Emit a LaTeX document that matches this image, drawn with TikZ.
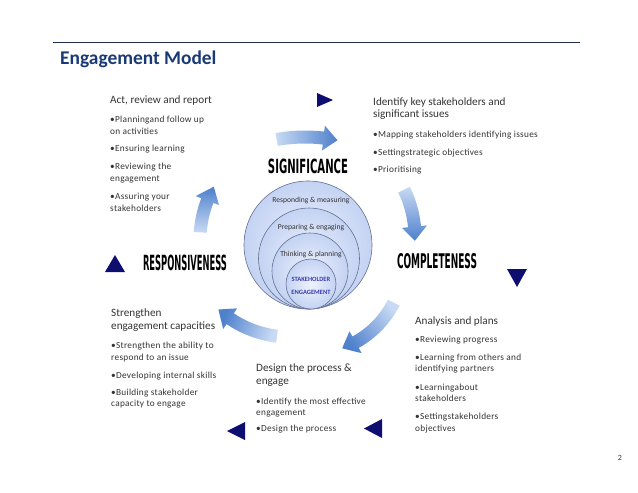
\documentclass[tikz,border=0pt]{standalone}
\usepackage{fontspec}
\setmainfont{Carlito}
\newfontfamily\bulfont[LetterSpace=3]{Carlito}
\newfontfamily\bigfont{DejaVu Sans}
\usepackage{graphicx}
\usetikzlibrary{calc}
\definecolor{navy}{RGB}{14,14,112}
\definecolor{titleblue}{RGB}{26,58,118}
\definecolor{rulecol}{RGB}{30,44,78}
\definecolor{txt}{RGB}{52,52,52}
\definecolor{arrlight}{RGB}{200,218,244}
\definecolor{arrdark}{RGB}{78,128,204}
\definecolor{circout}{RGB}{196,211,243}
\definecolor{circin}{RGB}{238,242,252}
\definecolor{circline}{RGB}{100,112,148}
\definecolor{stakeblue}{RGB}{58,58,172}
% #1 cx, #2 cy, #3 R, #4 tail angle, #5 head base angle, #6 tip angle, #7 shading options
\newcommand\cyclearrow[7]{%
  \shade[#7] ($(#1,#2)+(#4:{#3+6.5})$) arc[start angle=#4, end angle=#5, radius={#3+6.5}]
    -- ($(#1,#2)+(#5:{#3+12.5})$) -- ($(#1,#2)+(#6:#3)$) -- ($(#1,#2)+(#5:{#3-12.5})$)
    -- ($(#1,#2)+(#5:{#3-6.5})$) arc[start angle=#5, end angle=#4, radius={#3-6.5}] -- cycle;}
\begin{document}
\begin{tikzpicture}[x=1pt,y=-1pt,
  headtxt/.style={anchor=base west, inner sep=0pt, text=txt, font=\fontsize{11.2}{13}\selectfont},
  bultxt/.style={anchor=base west, inner sep=0pt, text=txt, font=\bulfont\fontsize{9.3}{11}\selectfont},
  ring/.style={circle, draw=circline, line width=0.6pt, inner color=circin, outer color=circout, inner sep=0pt},
  ringtxt/.style={inner sep=0pt, anchor=base, text=black!80, font=\fontsize{7.6}{8}\selectfont},
  staketxt/.style={inner sep=0pt, anchor=base, text=stakeblue, font=\bfseries\fontsize{6.5}{7}\selectfont},
  phase/.style={inner sep=0pt, text=black},
  navytri/.style={fill=navy}]
\useasboundingbox (0,0) rectangle (638,493);
\fill[white] (0,0) rectangle (638,493);

% header
\coordinate (ruleL) at (53,42);
\coordinate (ruleR) at (580,42);
\draw[rulecol, line width=0.9pt] (ruleL) -- (ruleR);
\node[anchor=base west, inner sep=0pt, text=titleblue, font=\bfseries\fontsize{19.4}{23}\selectfont] (title) at (60,64) {Engagement Model};
\node[anchor=base, inner sep=0pt, text=txt, font=\fontsize{8}{9}\selectfont] (pagenum) at (620,460) {2};

% cycle arrows
\cyclearrow{305}{300}{163}{-100}{-83.5}{-78.5}{top color=arrlight, bottom color=arrdark, shading angle=90}
\cyclearrow{307}{237}{108}{-26}{-5.5}{2}{top color=arrlight, bottom color=arrdark, shading angle=0}
\cyclearrow{310}{260}{94}{27}{61}{70}{top color=arrlight, bottom color=arrdark, shading angle=-50}
\cyclearrow{290}{230}{107}{97}{124}{132}{top color=arrlight, bottom color=arrdark, shading angle=-113}
\cyclearrow{310}{240}{110}{184}{201}{209}{top color=arrlight, bottom color=arrdark, shading angle=180}

% nested circles
\node[ring, minimum size=128pt] (ring1) at (308,245) {};
\node[ring, minimum size=101pt] (ring2) at (309,258.5) {};
\node[ring, minimum size=76pt] (ring3) at (310,271) {};
\node[ring, minimum size=50pt] (ring4) at (311,284) {};
\node[ringtxt] (r1txt) at (311,202.5) {Responding \& measuring};
\node[ringtxt] (r2txt) at (311,229.5) {Preparing \& engaging};
\node[ringtxt] (r3txt) at (311,256) {Thinking \& planning};
\node[staketxt] (r4a) at (311,281) {STAKEHOLDER};
\node[staketxt] (r4b) at (311,294.5) {ENGAGEMENT};

% phase words
\node[phase] (signif) at (308,166) {\resizebox{80pt}{14.5pt}{\bigfont\bfseries SIGNIFICANCE}};
\node[phase] (complete) at (437,261) {\resizebox{80pt}{15pt}{\bigfont\bfseries COMPLETENESS}};
\node[phase] (respons) at (185,263) {\resizebox{84pt}{15.5pt}{\bigfont\bfseries RESPONSIVENESS}};

% triangles
\fill[navytri] (317,93) -- (333,100) -- (317,107) -- cycle;
\fill[navytri] (105,272) -- (115,255) -- (125,272) -- cycle;
\fill[navytri] (507,269) -- (527,269) -- (517,287) -- cycle;
\fill[navytri] (245,422) -- (227,431) -- (245,440) -- cycle;
\fill[navytri] (382,419) -- (364,428.5) -- (382,438) -- cycle;

% top-left block
\node[headtxt] (tlh) at (110,103.5) {Act, review and report};
\foreach \yy/\tt [count=\i] in {122/{•Planningand follow up},134/{on activities},151/{•Ensuring learning},169.5/{•Reviewing the},181/{engagement},199.5/{•Assuring your},211/{stakeholders}}
  \node[bultxt] (tl\i) at (110,\yy) {\tt};

% top-right block
\node[headtxt] (trh1) at (373,105) {Identify key stakeholders and};
\node[headtxt] (trh2) at (373,117.5) {significant issues};
\foreach \yy/\tt [count=\i] in {137/{•Mapping stakeholders identifying issues},155/{•Settingstrategic objectives},172/{•Prioritising}}
  \node[bultxt] (tr\i) at (373,\yy) {\tt};

% bottom-left block
\node[headtxt] (blh1) at (111,316.5) {Strengthen};
\node[headtxt] (blh2) at (111,329.5) {engagement capacities};
\foreach \yy/\tt [count=\i] in {348/{•Strengthen the ability to},360/{respond to an issue},378/{•Developing internal skills},395/{•Building stakeholder},406.5/{capacity to engage}}
  \node[bultxt] (bl\i) at (111,\yy) {\tt};

% bottom-centre block
\node[headtxt] (bch1) at (256,371) {Design the process \&};
\node[headtxt] (bch2) at (256,384) {engage};
\foreach \yy/\tt [count=\i] in {404/{•Identify the most effective},415/{engagement},431/{•Design the process}}
  \node[bultxt] (bc\i) at (256,\yy) {\tt};

% bottom-right block
\node[headtxt] (brh) at (415,324) {Analysis and plans};
\foreach \yy/\tt [count=\i] in {342/{•Reviewing progress},360/{•Learning from others and},371.5/{identifying partners},390/{•Learningabout},401.5/{stakeholders},419/{•Settingstakeholders},431/{objectives}}
  \node[bultxt] (br\i) at (415,\yy) {\tt};
\end{tikzpicture}
\end{document}
